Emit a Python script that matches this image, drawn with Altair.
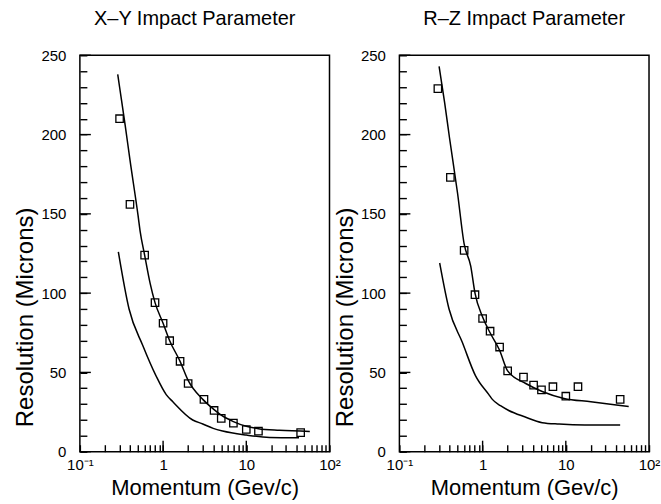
import altair as alt
import pandas as pd

# ---------------- data ----------------
# X-Y impact parameter
xy_pt_p = [0.3, 0.4, 0.6, 0.8, 1.0, 1.2, 1.6, 2.0, 3.1, 4.1, 5.0, 7.0, 10.0, 14.0, 45.0]
xy_pt_r = [210, 156, 124, 94, 81, 70, 57, 43, 33, 26, 21, 18, 14, 13, 12]
xy_up_p = [0.285, 0.3, 0.35, 0.4, 0.5, 0.53, 0.6, 0.7, 0.8, 1.0, 1.2, 1.6, 2.0, 3.0, 4.0, 5.0, 7.0, 10.0, 14.0, 25.0, 58.0]
xy_up_r = [238, 230, 206, 184, 149, 139, 124, 106, 94, 81, 70, 57, 45, 33, 27, 23, 19, 16, 14.5, 13.5, 12.8]
xy_lo_p = [0.29, 0.39, 0.57, 0.82, 1.09, 1.31, 2.27, 3.0, 4.0, 5.2, 10.0, 19.0, 43.0]
xy_lo_r = [126, 90, 67, 48, 36, 31.5, 20, 17.5, 14.7, 13, 10.5, 9, 8.8]

# R-Z impact parameter
rz_pt_p = [0.29, 0.41, 0.6, 0.81, 1.0, 1.23, 1.6, 2.0, 3.1, 4.1, 5.1, 7.0, 10.0, 14.0, 45.0]
rz_pt_r = [229, 173, 127, 99, 84, 76, 66, 51, 47, 42, 39, 41, 35, 41, 33]
rz_up_p = [0.3, 0.35, 0.4, 0.5, 0.6, 0.72, 0.81, 1.0, 1.23, 1.6, 2.0, 3.3, 5.2, 9.5, 20.0, 57.0]
rz_up_r = [243, 220, 198, 163, 131, 117, 100, 85, 75, 64, 51, 43, 38, 33.6, 31.5, 28.5]
rz_lo_p = [0.305, 0.395, 0.57, 0.82, 1.19, 1.31, 1.64, 2.06, 3.2, 5.2, 8.3, 17.0, 45.0]
rz_lo_r = [119, 90, 69, 48, 36, 33, 29, 26, 22, 18.3, 17.4, 16.8, 16.8]

titles = ["X\u2013Y Impact Parameter", "R\u2013Z Impact Parameter"]

# axis tick values
y_major = [0, 50, 100, 150, 200, 250]
y_minor = [10, 20, 30, 40, 60, 70, 80, 90, 110, 120, 130, 140,
           160, 170, 180, 190, 210, 220, 230, 240]
x_major = [1, 10]
x_minor = [0.2, 0.3, 0.4, 0.5, 0.6, 0.7, 0.8, 0.9,
           2, 3, 4, 5, 6, 7, 8, 9,
           20, 30, 40, 50, 60, 70, 80, 90]
x_labels = [0.1, 1, 10, 100]

W, H = 250, 397
FONT = "Liberation Sans"
TICK_IN = -7  # inward-pointing axis ticks


def panel(title, pt_p, pt_r, up_p, up_r, lo_p, lo_r, dx):
    xs = alt.Scale(type="log", domain=[0.1, 100], nice=False)
    ys = alt.Scale(domain=[0, 250], nice=False)
    xaxis = alt.Axis(values=sorted(x_labels + x_minor),
                     title="Momentum (Gev/c)",
                     labelExpr=("datum.value == 0.1 ? '10\u207b\u00b9' : datum.value == 1 ? '1' : "
                                "datum.value == 10 ? '10' : datum.value == 100 ? '10\u00b2' : ''"),
                     ticks=True, tickSize=alt.ExprRef(expr=str(TICK_IN)), tickColor="black",
                     tickWidth=1.4, domain=False, grid=False,
                     labelPadding=6 - TICK_IN, labelFontSize=15, labelFont=FONT, labelColor="black",
                     titleFont=FONT, titleFontSize=22, titleFontWeight="normal",
                     titleColor="black", titlePadding=5, labelFlush=False)
    yaxis = alt.Axis(values=sorted(y_major + y_minor), title="Resolution (Microns)",
                     labelExpr="datum.value % 50 == 0 ? datum.label : ''",
                     ticks=True, tickSize=alt.ExprRef(expr=str(TICK_IN)), tickColor="black",
                     tickWidth=1.4, domain=False, grid=False,
                     labelPadding=14 - TICK_IN, labelFontSize=15, labelFont=FONT, labelColor="black",
                     titleFont=FONT, titleFontSize=24, titleFontWeight="normal",
                     titleColor="black", titleAngle=270, titleX=-54, titleY=262,
                     titleAlign="center", titleBaseline="middle")

    curves = pd.DataFrame({
        "p": up_p + lo_p,
        "r": up_r + lo_r,
        "curve": ["upper"] * len(up_p) + ["lower"] * len(lo_p),
    })
    pts = pd.DataFrame({"p": pt_p, "r": pt_r})

    enc_x = alt.X("p:Q", scale=xs, axis=xaxis)
    enc_y = alt.Y("r:Q", scale=ys, axis=yaxis)

    lines = alt.Chart(curves).mark_line(color="black", strokeWidth=1.5, interpolate="monotone").encode(
        x=enc_x, y=enc_y, detail="curve:N")
    squares = alt.Chart(pts).mark_point(shape="square", filled=False, color="black",
                                        size=55, strokeWidth=1.3, opacity=1).encode(x=enc_x, y=enc_y)
    ymaj = alt.Chart(pd.DataFrame({"r": y_major})).mark_rule(color="black", strokeWidth=1.4).encode(
        y=enc_y, x=alt.value(0), x2=alt.value(11))
    xmaj = alt.Chart(pd.DataFrame({"p": x_major})).mark_rule(color="black", strokeWidth=1.4).encode(
        x=enc_x, y=alt.value(H), y2=alt.value(H - 11))

    return alt.layer(lines, squares, ymaj, xmaj).properties(
        width=W, height=H,
        title=alt.TitleParams(title, font=FONT, fontSize=20, fontWeight="normal",
                              color="black", anchor="middle", frame="group", offset=19, dx=dx),
    )


left = panel(titles[0], xy_pt_p, xy_pt_r, xy_up_p, xy_up_r, xy_lo_p, xy_lo_r, -10)
right = panel(titles[1], rz_pt_p, rz_pt_r, rz_up_p, rz_up_r, rz_lo_p, rz_lo_r, 0)

chart = alt.hconcat(left, right, spacing=70, bounds="flush").properties(
    padding={"left": 13, "top": 8, "right": 0, "bottom": 0},
    background="white",
).configure_view(stroke="black", strokeWidth=1.5)

chart.save("out.html", embed_options={"renderer": "svg", "actions": False})
